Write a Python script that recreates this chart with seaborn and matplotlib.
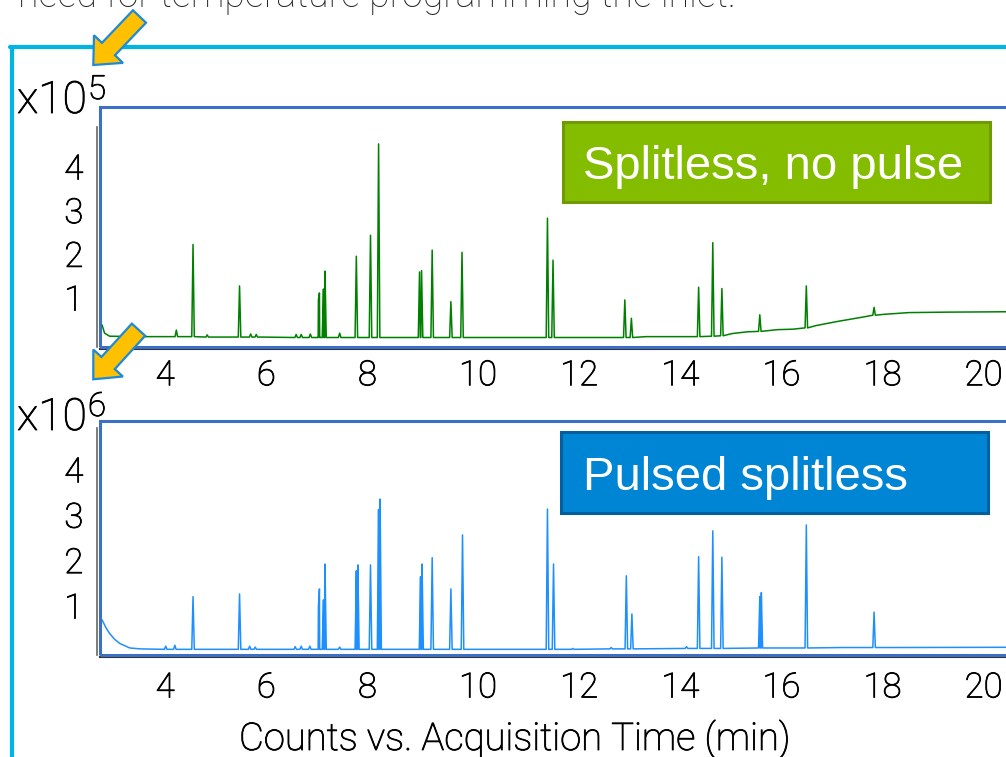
import pandas as pd
import seaborn as sns
import matplotlib.pyplot as plt
import matplotlib.patheffects as pe
from matplotlib.patches import Rectangle, FancyArrow
from matplotlib.lines import Line2D
from matplotlib.transforms import IdentityTransform, ScaledTranslation

# --- Splitless, no pulse (counts x10^5) ---
# baseline knots (min, counts)
top_base_t = [2.80, 2.84, 2.89, 2.99, 3.5, 4.5, 6.0, 8.0, 9.5, 10.5, 12.5, 13.6,
              14.3, 15.3, 15.6, 16.2, 16.5, 16.95, 17.4, 17.9, 18.3, 18.8, 19.5, 20.85]
top_base_v = [0.28, 0.37, 0.18, 0.11, 0.10, 0.10, 0.09, 0.08, 0.08, 0.08, 0.08, 0.10,
              0.10, 0.17, 0.21, 0.26, 0.27, 0.35, 0.45, 0.55, 0.61, 0.65, 0.66, 0.67]
# peaks: retention time, apex, foot level
top_rt = [4.31, 4.64, 4.92, 5.56, 5.78, 5.89, 6.68, 6.78, 6.96, 7.12, 7.14, 7.22, 7.25,
          7.54, 7.87, 8.15, 8.31, 9.12, 9.16, 9.37, 9.74, 9.96, 11.65, 11.76, 13.18,
          13.31, 14.64, 14.92, 15.10, 15.85, 16.77, 18.11]
top_apex = [0.25, 2.21, 0.14, 1.26, 0.16, 0.15, 0.15, 0.15, 0.16, 0.95, 1.10, 1.19, 1.60,
            0.18, 1.94, 2.42, 4.51, 1.58, 1.61, 2.08, 0.90, 2.03, 2.81, 1.85, 0.94,
            0.52, 1.23, 2.25, 1.20, 0.60, 1.26, 0.77]
top_foot = [0.10, 0.10, 0.09, 0.09, 0.09, 0.09, 0.08, 0.08, 0.08, 0.08, 0.08, 0.08, 0.08,
            0.08, 0.08, 0.08, 0.08, 0.08, 0.08, 0.08, 0.08, 0.08, 0.08, 0.08, 0.08,
            0.08, 0.10, 0.11, 0.12, 0.22, 0.30, 0.59]

# --- Pulsed splitless (counts x10^6) ---
bot_base_t = [2.80, 2.84, 2.92, 2.99, 3.09, 3.19, 3.39, 3.6, 3.8, 5.0, 6.5, 9.0, 11.0,
              13.0, 14.2, 16.3, 17.5, 18.5, 20.85]
bot_base_v = [0.62, 0.68, 0.50, 0.38, 0.25, 0.16, 0.06, 0.04, 0.035, 0.03, 0.03, 0.03, 0.03,
              0.04, 0.05, 0.06, 0.07, 0.07, 0.075]
bot_rt = [4.10, 4.28, 4.64, 5.56, 5.76, 5.87, 6.66, 6.78, 6.95, 7.12, 7.14, 7.22, 7.25,
          7.54, 7.87, 7.90, 8.15, 8.31, 8.34, 9.14, 9.17, 9.37, 9.74, 9.97, 11.65, 11.77,
          12.15, 12.91, 13.21, 13.32, 14.40, 14.64, 14.92, 15.10, 15.85, 15.88, 16.77, 18.11]
bot_apex = [0.10, 0.12, 1.19, 1.25, 0.10, 0.08, 0.09, 0.10, 0.10, 0.97, 1.36, 1.12, 1.91,
            0.08, 1.76, 1.89, 1.89, 3.11, 3.34, 1.63, 1.91, 2.05, 1.36, 2.55, 3.12, 1.91,
            0.05, 0.07, 1.65, 0.81, 0.09, 2.07, 2.64, 2.06, 1.19, 1.28, 2.77, 0.85]
bot_foot = [0.03, 0.03, 0.03, 0.03, 0.03, 0.03, 0.03, 0.03, 0.03, 0.03, 0.03, 0.03, 0.03,
            0.03, 0.03, 0.03, 0.03, 0.03, 0.03, 0.03, 0.03, 0.03, 0.03, 0.03, 0.03, 0.03,
            0.03, 0.04, 0.04, 0.04, 0.05, 0.05, 0.05, 0.05, 0.06, 0.06, 0.06, 0.07]

xticks = [4, 6, 8, 10, 12, 14, 16, 18, 20]
yticks = [1, 2, 3, 4]

W, H = 1006, 757


def fx(x):
    return x / W


def fy(y):
    return 1 - y / H


def trace(base_t, base_v, rt, apex, foot, hw=0.025):
    t = list(base_t)
    v = list(base_v)
    for r, a, f in zip(rt, apex, foot):
        t += [r - hw, r, r + hw]
        v += [f, a, f]
    return pd.DataFrame({'time': t, 'counts': v}).sort_values('time')


sns.set_style('white')
plt.rcParams['font.family'] = ['Roboto', 'DejaVu Sans']
plt.rcParams['font.weight'] = 'light'

# light Roboto is a touch thinner than the slide's text, thicken it slightly
thick = [pe.withStroke(linewidth=0.6, foreground='black')]

fig = plt.figure(figsize=(W / 100, H / 100), dpi=100)
fig.patch.set_facecolor('white')

panels = [
    # data, colour, frame top/bottom px, y of zero px, px per unit, label pad
    (trace(top_base_t, top_base_v, top_rt, top_apex, top_foot), '#008000', 107, 347, 341.0, 43.7, 3),
    (trace(bot_base_t, bot_base_v, bot_rt, bot_apex, bot_foot), '#1E8FFF', 421, 655, 650.7, 45.4, 6),
]
x0, x1 = 100, 1012
xmin = 2.8
xmax = xmin + (x1 - x0) / 50.56

axes = []
for df, col, ytop, ybot, yzero, ppu, xpad in panels:
    ax = fig.add_axes([fx(x0), fy(ybot), (x1 - x0) / W, (ybot - ytop) / H])
    sns.lineplot(data=df, x='time', y='counts', ax=ax, color=col, lw=1.1,
                 estimator=None, sort=True)
    ax.set_xlim(xmin, xmax)
    ax.set_ylim((yzero - ybot) / ppu, (yzero - ytop) / ppu)
    ax.set_xticks(xticks)
    ax.set_yticks(yticks)
    ax.set_xlabel('')
    ax.set_ylabel('')
    for s in ['top', 'right']:
        ax.spines[s].set_visible(False)
    ax.spines['left'].set_color('#666666')
    ax.spines['left'].set_linewidth(1.2)
    ax.spines['left'].set_position(('outward', 2))
    ax.spines['left'].set_bounds(ax.get_ylim()[0], 4.9)
    ax.spines['bottom'].set_color('#333333')
    ax.spines['bottom'].set_linewidth(1.5)
    ax.spines['bottom'].set_position(('outward', 1.5))
    ax.tick_params(axis='x', direction='out', length=4, width=1, color='#333333',
                   labelsize=25, pad=xpad, labelcolor='black')
    ax.tick_params(axis='y', direction='out', length=4, width=1, color='#333333',
                   labelsize=25, pad=6, labelcolor='black')
    # the instrument software puts the x labels just right of the tick
    shift = ScaledTranslation(-0.05, 0, fig.dpi_scale_trans)
    for lab in ax.get_xticklabels():
        lab.set_horizontalalignment('left')
        lab.set_transform(lab.get_transform() + shift)
    for lab in ax.get_xticklabels() + ax.get_yticklabels():
        lab.set_path_effects(thick)
    # blue highlight frame
    ax.add_patch(Rectangle((0, 0), 1, 1, transform=ax.transAxes, fill=False,
                           ec='#3C6FC6', lw=2.2, clip_on=False, zorder=5))
    axes.append(ax)

# labels in the panels
fig.add_artist(Rectangle((fx(563), fy(202)), (990 - 563) / W, (202 - 122) / H,
                         transform=fig.transFigure, fc='#84BD00', ec='#6F9A00', lw=2.2, zorder=6))
fig.text(fx(583), fy(179), 'Splitless, no pulse', color='white', size=34,
         family='Liberation Sans', weight='normal', va='baseline', zorder=7)
fig.add_artist(Rectangle((fx(561), fy(513)), (988 - 561) / W, (513 - 432) / H,
                         transform=fig.transFigure, fc='#0085D4', ec='#005F9E', lw=2.2, zorder=6))
fig.text(fx(583), fy(490), 'Pulsed splitless', color='white', size=34,
         family='Liberation Sans', weight='normal', va='baseline', zorder=7)

# exponent labels
renderer = fig.canvas.get_renderer()
for base_y, exp in [(113, '5'), (430, '6')]:
    t = fig.text(fx(17), fy(base_y), 'x10', size=32, va='baseline', color='black',
                 path_effects=thick)
    right = t.get_window_extent(renderer).x1
    fig.text(right / W + 1 / W, fy(base_y - 14), exp, size=24, va='baseline', color='black',
             path_effects=thick)

fig.text(fx(515), fy(750), 'Counts vs. Acquisition Time (min)', size=27.5,
         ha='center', va='baseline', color='black', path_effects=thick)

# slide text cut at the top and cyan slide box
fig.text(fx(18), fy(7), 'need for temperature programming the inlet.', size=27,
         va='baseline', color='#222222')
fig.add_artist(Line2D([fx(10), 1.0], [fy(47), fy(47)], transform=fig.transFigure,
                      color='#00B5E2', lw=3))
fig.add_artist(Line2D([fx(12), fx(12)], [fy(47), 0], transform=fig.transFigure,
                      color='#00B5E2', lw=3))

# yellow arrows pointing at the exponents
for tail, tip in [((139.5, 16.5), (93.3, 65.0)), ((138.5, 329.7), (93.3, 379.3))]:
    arr = FancyArrow(tail[0], H - tail[1], tip[0] - tail[0], -(tip[1] - tail[1]),
                     width=18, head_width=40, head_length=22, length_includes_head=True,
                     fc='#FFC000', ec='#1C8AD8', lw=1.6, transform=IdentityTransform(),
                     zorder=20)
    fig.add_artist(arr)

fig.savefig('out.png', dpi=100)
